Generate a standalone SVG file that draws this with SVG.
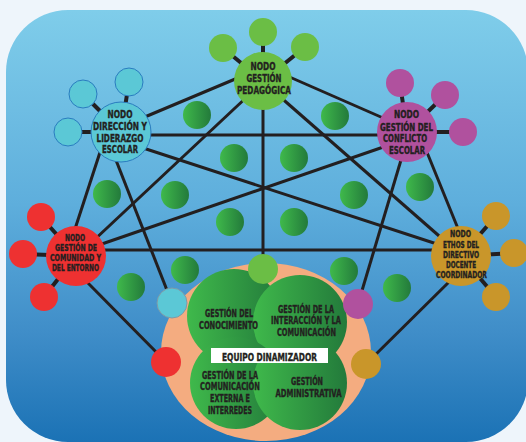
<svg xmlns="http://www.w3.org/2000/svg" width="526" height="442" viewBox="0 0 526 442">
<defs>
<linearGradient id="bg" x1="0" y1="0" x2="0" y2="1">
<stop offset="0" stop-color="#7fcdea"/>
<stop offset="0.45" stop-color="#5eaedc"/>
<stop offset="0.75" stop-color="#3f8dc8"/>
<stop offset="1" stop-color="#1b72b5"/>
</linearGradient>
<linearGradient id="gr" x1="0" y1="0" x2="1" y2="0">
<stop offset="0" stop-color="#3fb94b"/>
<stop offset="1" stop-color="#237a3b"/>
</linearGradient>
<style>
.e{stroke:#231f20;stroke-width:3;fill:none;stroke-linecap:butt}
.s{stroke:#231f20;stroke-width:4}
.dot{fill:url(#gr)}
.big{fill:url(#gr)}
.t{font-family:"DejaVu Sans Condensed","DejaVu Sans",sans-serif;font-weight:bold;fill:#231f20;stroke:#231f20;stroke-width:0.35;text-anchor:middle}
.n11{font-size:10.5px}
.n9{font-size:9px}
.n10{font-size:10px}
.cy{fill:#5bc8d6;stroke:#2a7cc0;stroke-width:1}
.gn{fill:#6bbe45}
.mg{fill:#b0519e}
.rd{fill:#ee3131}
.gd{fill:#c9962a}
</style>
</defs>
<rect x="0" y="0" width="526" height="442" fill="#eef5fb"/>
<rect x="6" y="10" width="522" height="432" rx="62" ry="62" fill="url(#bg)"/>

<g id="connectors">
<line class="e" x1="140" y1="119" x2="240" y2="77"/>
<line class="e" x1="140" y1="135" x2="390" y2="135"/>
<line class="e" x1="140" y1="147" x2="440" y2="245"/>
<line class="e" x1="112" y1="150" x2="172" y2="303"/>
<line class="e" x1="104" y1="140" x2="74" y2="232"/>
<line class="e" x1="250" y1="94" x2="92" y2="242"/>
<line class="e" x1="263" y1="100" x2="263" y2="262"/>
<line class="e" x1="285" y1="75" x2="390" y2="121"/>
<line class="e" x1="278" y1="95" x2="446" y2="242"/>
<line class="e" x1="395" y1="143" x2="96" y2="246"/>
<line class="e" x1="404" y1="150" x2="358" y2="304"/>
<line class="e" x1="422" y1="140" x2="461" y2="236"/>
<line class="e" x1="96" y1="250" x2="440" y2="250"/>
<line class="e" x1="84" y1="279" x2="166" y2="362"/>
<line class="e" x1="452" y1="279" x2="366" y2="364"/>
</g>

<g id="fillers">
<circle class="dot" cx="197" cy="115" r="14"/>
<circle class="dot" cx="335" cy="116" r="14"/>
<circle class="dot" cx="234" cy="158" r="14"/>
<circle class="dot" cx="294" cy="158" r="14"/>
<circle class="dot" cx="107" cy="194" r="14"/>
<circle class="dot" cx="175" cy="195" r="14"/>
<circle class="dot" cx="354" cy="195" r="14"/>
<circle class="dot" cx="420" cy="187" r="14"/>
<circle class="dot" cx="230" cy="222" r="14"/>
<circle class="dot" cx="294" cy="222" r="14"/>
<circle class="dot" cx="185" cy="270" r="14"/>
<circle class="dot" cx="344" cy="271" r="14"/>
<circle class="dot" cx="131" cy="287" r="14"/>
<circle class="dot" cx="397" cy="288" r="14"/>
</g>

<g id="node-pedagogica">
<line class="s" x1="263" y1="81" x2="223" y2="48"/>
<line class="s" x1="263" y1="81" x2="263" y2="32"/>
<line class="s" x1="263" y1="81" x2="305" y2="47"/>
<circle class="gn" cx="223" cy="48" r="14"/>
<circle class="gn" cx="263" cy="32" r="14"/>
<circle class="gn" cx="305" cy="47" r="14"/>
<circle class="gn" cx="263" cy="81" r="29"/>
<text class="t n11" x="263" y="70" textLength="25" lengthAdjust="spacingAndGlyphs">NODO</text>
<text class="t n11" x="264" y="82" textLength="35" lengthAdjust="spacingAndGlyphs">GESTIÓN</text>
<text class="t n11" x="264" y="94" textLength="54" lengthAdjust="spacingAndGlyphs">PEDAGÓGICA</text>
</g>

<g id="node-direccion">
<line class="s" x1="121" y1="132" x2="83" y2="94"/>
<line class="s" x1="121" y1="132" x2="129" y2="82"/>
<line class="s" x1="121" y1="132" x2="68" y2="132"/>
<circle class="cy" cx="83" cy="94" r="14"/>
<circle class="cy" cx="129" cy="82" r="14"/>
<circle class="cy" cx="68" cy="132" r="14"/>
<circle class="cy" cx="121" cy="132" r="30"/>
<text class="t n11" x="120" y="117.5" textLength="25" lengthAdjust="spacingAndGlyphs">NODO</text>
<text class="t n11" x="120" y="129.5" textLength="54" lengthAdjust="spacingAndGlyphs">DIRECCIÓN Y</text>
<text class="t n11" x="120" y="141.5" textLength="47" lengthAdjust="spacingAndGlyphs">LIDERAZGO</text>
<text class="t n11" x="120" y="153" textLength="36" lengthAdjust="spacingAndGlyphs">ESCOLAR</text>
</g>

<g id="node-conflicto">
<line class="s" x1="407" y1="132" x2="400" y2="83"/>
<line class="s" x1="407" y1="132" x2="445" y2="95"/>
<line class="s" x1="407" y1="132" x2="463" y2="132"/>
<circle class="mg" cx="400" cy="83" r="14"/>
<circle class="mg" cx="445" cy="95" r="14"/>
<circle class="mg" cx="463" cy="132" r="14"/>
<circle class="mg" cx="407" cy="132" r="30"/>
<text class="t n11" x="406.5" y="118" textLength="25" lengthAdjust="spacingAndGlyphs">NODO</text>
<text class="t n11" x="406.5" y="130.5" textLength="53" lengthAdjust="spacingAndGlyphs">GESTIÓN DEL</text>
<text class="t n11" x="405" y="142" textLength="44" lengthAdjust="spacingAndGlyphs">CONFLICTO</text>
<text class="t n11" x="407" y="154" textLength="36" lengthAdjust="spacingAndGlyphs">ESCOLAR</text>
</g>

<g id="node-comunidad">
<line class="s" x1="76" y1="256" x2="41" y2="217"/>
<line class="s" x1="76" y1="256" x2="23" y2="254"/>
<line class="s" x1="76" y1="256" x2="44" y2="297"/>
<circle class="rd" cx="41" cy="217" r="14"/>
<circle class="rd" cx="23" cy="254" r="14"/>
<circle class="rd" cx="44" cy="297" r="14"/>
<circle class="rd" cx="76" cy="256" r="30"/>
<text class="t n9" x="75" y="241" textLength="20" lengthAdjust="spacingAndGlyphs">NODO</text>
<text class="t n9" x="76" y="251" textLength="42" lengthAdjust="spacingAndGlyphs">GESTIÓN DE</text>
<text class="t n9" x="75.5" y="261" textLength="51" lengthAdjust="spacingAndGlyphs">COMUNIDAD Y</text>
<text class="t n9" x="75.5" y="271" textLength="47" lengthAdjust="spacingAndGlyphs">DEL ENTORNO</text>
</g>

<g id="node-ethos">
<line class="s" x1="461" y1="256" x2="496" y2="216"/>
<line class="s" x1="461" y1="256" x2="514" y2="253"/>
<line class="s" x1="461" y1="256" x2="496" y2="297"/>
<circle class="gd" cx="496" cy="216" r="14"/>
<circle class="gd" cx="514" cy="253" r="14"/>
<circle class="gd" cx="496" cy="297" r="14"/>
<circle class="gd" cx="461" cy="256" r="30"/>
<text class="t n9" x="460.5" y="237" textLength="21" lengthAdjust="spacingAndGlyphs">NODO</text>
<text class="t n9" x="461" y="248" textLength="36" lengthAdjust="spacingAndGlyphs">ETHOS DEL</text>
<text class="t n9" x="461" y="258" textLength="36" lengthAdjust="spacingAndGlyphs">DIRECTIVO</text>
<text class="t n9" x="461" y="268" textLength="30" lengthAdjust="spacingAndGlyphs">DOCENTE</text>
<text class="t n9" x="461.5" y="278" textLength="51" lengthAdjust="spacingAndGlyphs">COORDINADOR</text>
</g>

<g id="equipo-dinamizador">
<ellipse cx="266" cy="352" rx="105" ry="89" fill="#f4ac80"/>
<circle class="big" cx="234" cy="316" r="47"/>
<circle class="big" cx="300" cy="322" r="47"/>
<circle class="big" cx="236" cy="383" r="46"/>
<circle class="big" cx="300" cy="383" r="47"/>
<text class="t n10" x="229" y="317" textLength="48" lengthAdjust="spacingAndGlyphs">GESTIÓN DEL</text>
<text class="t n10" x="228.5" y="329" textLength="59" lengthAdjust="spacingAndGlyphs">CONOCIMIENTO</text>
<text class="t n10" x="306" y="312.5" textLength="56" lengthAdjust="spacingAndGlyphs">GESTIÓN DE LA</text>
<text class="t n10" x="306" y="324.3" textLength="70" lengthAdjust="spacingAndGlyphs">INTERACCIÓN Y LA</text>
<text class="t n10" x="306.5" y="336" textLength="59" lengthAdjust="spacingAndGlyphs">COMUNICACIÓN</text>
<text class="t n10" x="230" y="378.5" textLength="56" lengthAdjust="spacingAndGlyphs">GESTIÓN DE LA</text>
<text class="t n10" x="230" y="390.3" textLength="60" lengthAdjust="spacingAndGlyphs">COMUNICACIÓN</text>
<text class="t n10" x="230" y="402" textLength="40" lengthAdjust="spacingAndGlyphs">EXTERNA E</text>
<text class="t n10" x="230" y="414" textLength="44" lengthAdjust="spacingAndGlyphs">INTERREDES</text>
<text class="t n10" x="307" y="385" textLength="32" lengthAdjust="spacingAndGlyphs">GESTIÓN</text>
<text class="t n10" x="308.5" y="396.7" textLength="66" lengthAdjust="spacingAndGlyphs">ADMINISTRATIVA</text>
<rect x="211" y="348" width="117" height="15" fill="#ffffff"/>
<text class="t n11" x="269.5" y="360.7" textLength="95" lengthAdjust="spacingAndGlyphs">EQUIPO DINAMIZADOR</text>
</g>

<g id="small-nodes">
<circle cx="172" cy="303" r="15" fill="#5bc8d6" stroke="#7f9aa6" stroke-width="1"/>
<circle cx="166" cy="362" r="15" fill="#ee3131"/>
<circle cx="263" cy="269" r="15" fill="#6bbe45"/>
<circle cx="358" cy="304" r="15" fill="#b0519e"/>
<circle cx="366" cy="364" r="15" fill="#c9962a"/>
</g>
</svg>
